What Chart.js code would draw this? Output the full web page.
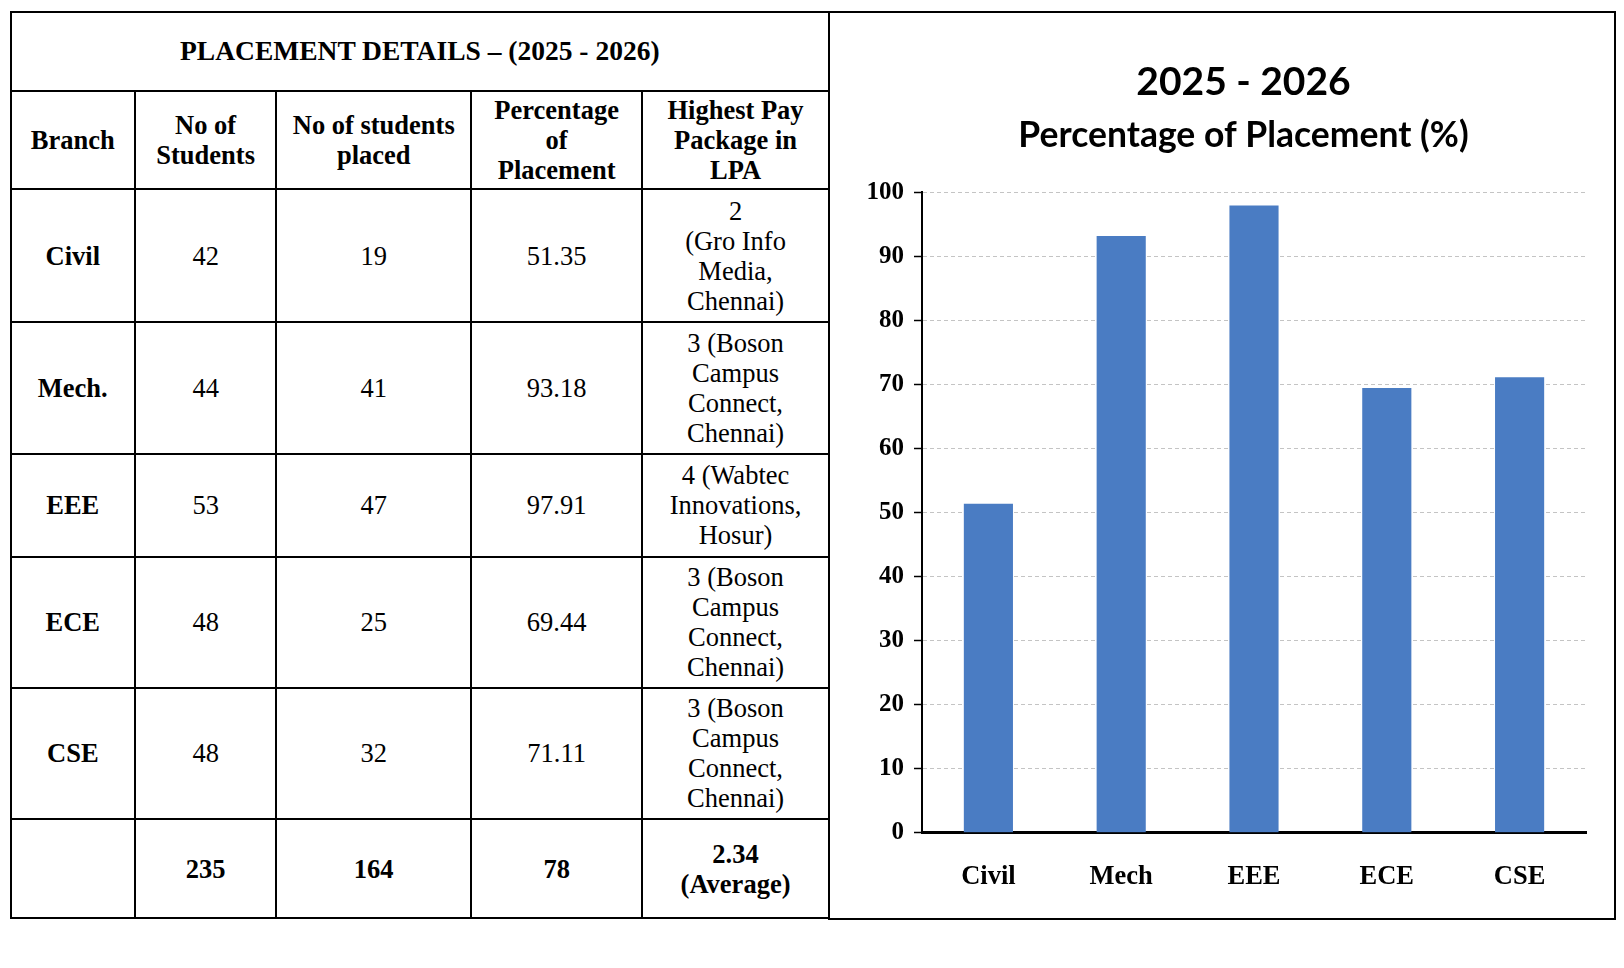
<!DOCTYPE html>
<html>
<head>
<meta charset="utf-8">
<script src="https://cdn.jsdelivr.net/npm/chart.js@4.4.1/dist/chart.umd.min.js"></script>
<style>
  html, body { margin:0; padding:0; background:#fff; }
  body { width:1624px; height:968px; position:relative; overflow:hidden; font-family:"Liberation Serif","Times New Roman",serif; color:#000; }
  .cell { position:absolute; box-sizing:border-box; border:2px solid #000; display:flex; align-items:center; justify-content:center; text-align:center; font-size:26.5px; line-height:30px; white-space:nowrap; }
  .b { font-weight:bold; }
  .ttl { font-size:27.5px; font-weight:bold; }
  #panel { position:absolute; left:828px; top:11px; width:788px; height:909px; box-sizing:border-box; border:2px solid #000; }
  #chartBox { position:absolute; left:30px; top:0; width:767px; height:905px; }
</style>
</head>
<body>
<div id="table"></div>
<div id="panel"><div id="chartBox"><canvas id="c"></canvas></div></div>
<script>
// ---- data ----
const tableTitle = 'PLACEMENT DETAILS \u2013 (2025 - 2026)';
const headers = ['Branch', 'No of\nStudents', 'No of students\nplaced', 'Percentage\nof\nPlacement', 'Highest Pay\nPackage in\nLPA'];
const branches = ['Civil', 'Mech.', 'EEE', 'ECE', 'CSE'];
const numStudents = ['42', '44', '53', '48', '48'];
const numPlaced = ['19', '41', '47', '25', '32'];
const placementText = ['51.35', '93.18', '97.91', '69.44', '71.11'];
const highestPay = [
  '2\n(Gro Info\nMedia,\nChennai)',
  '3 (Boson\nCampus\nConnect,\nChennai)',
  '4 (Wabtec\nInnovations,\nHosur)',
  '3 (Boson\nCampus\nConnect,\nChennai)',
  '3 (Boson\nCampus\nConnect,\nChennai)'
];
const totals = ['', '235', '164', '78', '2.34\n(Average)'];

const chartTitle = '2025 - 2026';
const chartSubtitle = 'Percentage of Placement (%)';
const categories = ['Civil', 'Mech', 'EEE', 'ECE', 'CSE'];
const placementPct = [51.35, 93.18, 97.91, 69.44, 71.11];
const yMin = 0, yMax = 100, yStep = 10;

// ---- table layout ----
const colX = [10.6, 135, 276.3, 471.2, 642.1, 829];
const rowY = [11.7, 90.7, 189.3, 322.3, 454.3, 556.7, 687.7, 819, 918.3];
const tbl = document.getElementById('table');
function esc(s){ return s.replace(/&/g,'&amp;').replace(/</g,'&lt;'); }
function addCell(c0, c1, r, text, cls) {
  const d = document.createElement('div');
  d.className = 'cell ' + (cls || '');
  d.style.left = (colX[c0] - 1) + 'px';
  d.style.width = (colX[c1] - colX[c0] + 2) + 'px';
  d.style.top = (rowY[r] - 1) + 'px';
  d.style.height = (rowY[r + 1] - rowY[r] + 2) + 'px';
  d.innerHTML = '<div>' + text.split('\n').map(esc).join('<br>') + '</div>';
  tbl.appendChild(d);
}
addCell(0, 5, 0, tableTitle, 'ttl');
headers.forEach((h, i) => addCell(i, i + 1, 1, h, 'b'));
branches.forEach((b, r) => {
  addCell(0, 1, r + 2, b, 'b');
  addCell(1, 2, r + 2, numStudents[r]);
  addCell(2, 3, r + 2, numPlaced[r]);
  addCell(3, 4, r + 2, placementText[r]);
  addCell(4, 5, r + 2, highestPay[r]);
});
totals.forEach((t, i) => addCell(i, i + 1, 7, t, 'b'));

// ---- chart ----
new Chart(document.getElementById('c'), {
  type: 'bar',
  data: {
    labels: categories,
    datasets: [{
      data: placementPct,
      backgroundColor: '#4A7CC3',
      borderWidth: 0,
      categoryPercentage: 1.0,
      barPercentage: 0.37
    }]
  },
  options: {
    responsive: true,
    maintainAspectRatio: false,
    animation: false,
    devicePixelRatio: 1,
    layout: { padding: 0 },
    plugins: {
      legend: { display: false },
      tooltip: { enabled: false },
      title: {
        display: true, text: chartTitle, color: '#000',
        font: { family: 'Lato', size: 39, weight: 'bold', lineHeight: 1.2 },
        padding: { top: 46.3, bottom: 0 }
      },
      subtitle: {
        display: true, text: chartSubtitle, color: '#000',
        font: { family: 'Lato', size: 35.5, weight: 'bold', lineHeight: 1.2 },
        padding: { top: 7.9, bottom: 35.6 }
      }
    },
    scales: {
      x: {
        grid: { display: false, drawTicks: false },
        border: { display: true, color: '#000', width: 3 },
        ticks: {
          color: '#000', padding: 29,
          font: { family: 'Liberation Serif', size: 26.5, weight: 'bold' }
        },
        afterFit: s => { s.height = 85.3; }
      },
      y: {
        min: yMin, max: yMax,
        grid: { color: '#c4c4c4', lineWidth: 1, tickColor: '#000', tickLength: 8, tickWidth: 1.5 },
        border: { display: true, color: '#000', width: 2, dash: [4, 3] },
        ticks: {
          stepSize: yStep, color: '#000', padding: 10,
          font: { family: 'Liberation Serif', size: 25, weight: 'bold' }
        },
        afterFit: s => { s.width = 62; }
      },
      spacer: {
        type: 'linear', position: 'right', display: true,
        grid: { display: false, drawTicks: false },
        border: { display: false },
        ticks: { display: false },
        afterFit: s => { s.width = 41; }
      }
    }
  }
});
</script>
</body>
</html>
